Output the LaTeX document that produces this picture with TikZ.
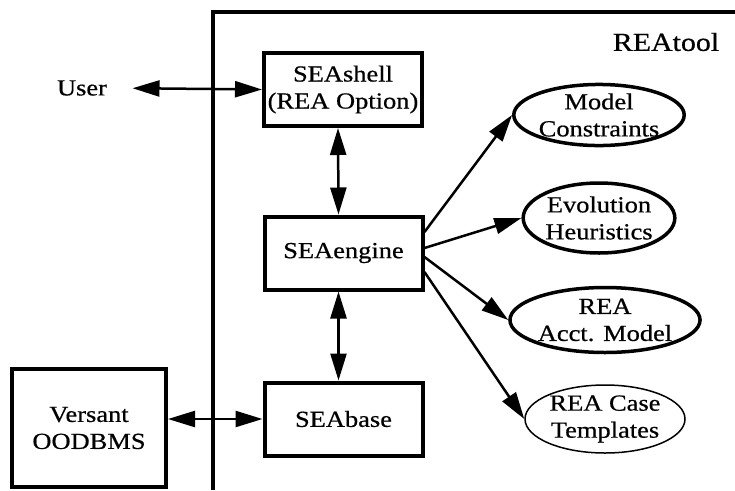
\documentclass[tikz,border=0pt]{standalone}
\usepackage{fontspec}
\setmainfont{Liberation Serif}[FakeStretch=1.15, FakeBold=0.6]
\usetikzlibrary{arrows.meta,shapes.geometric}

\begin{document}
\begin{tikzpicture}[x=1pt, y=-1pt, font=\fontsize{23}{27}\selectfont,
    >={Triangle[length=27pt, width=16pt]},
    box/.style = {draw, line width=4pt, rectangle, align=center, minimum width=158pt, minimum height=73pt},
    oval/.style = {draw, line width=3.5pt, ellipse, align=center, inner sep=0pt},
    dbl/.style = {<->, line width=2.5pt},
    one/.style = {->, line width=2.5pt}]
    \useasboundingbox (0,0) rectangle (735,490);
    % REAtool frame
    \draw[line width=4pt] (213,490) -- (213,12) -- (737,12);
    \node[font=\fontsize{26}{30}\selectfont] (reatool) at (666,42) {REAtool};
    % boxes
    \node[box] (shell) at (343,89.5) {SEAshell\\(REA Option)};
    \node[box] (engine) at (343.5,253) {SEAengine};
    \node[box] (base) at (343.5,419) {SEAbase};
    \node[box, minimum width=154pt, minimum height=118pt] (versant) at (89,428) {Versant\\OODBMS};
    \node (user) at (82,88) {User};
    % knowledge ovals
    \node[oval, minimum width=142pt, minimum height=56pt] (mc) at (599,115) {Model\\Constraints};
    \node[oval, minimum width=145pt, minimum height=70pt] (eh) at (599,218) {Evolution\\Heuristics};
    \node[oval, minimum width=160pt, minimum height=65pt] (am) at (605,320) {REA\\Acct. Model};
    \node[oval, line width=1.5pt, minimum width=160pt, minimum height=68pt] (ct) at (605,419) {REA Case\\Templates};
    % connectors
    \draw[dbl, shorten <=22pt] (user.east) -- (shell.west);
    \draw[dbl] ([xshift=-5pt]shell.south) -- ([xshift=-5pt]engine.north);
    \draw[dbl] ([xshift=-5pt]engine.south) -- ([xshift=-5pt]base.north);
    \draw[dbl] (versant.east |- base.west) -- (base.west);
    \draw[one] ([yshift=21pt]engine.east) -- (mc.west);
    \draw[one] ([yshift=5pt]engine.east) -- (eh.west);
    \draw[one] ([yshift=-4pt]engine.east) -- (am.west);
    \draw[one] ([yshift=-19pt]engine.east) -- (ct.west);
\end{tikzpicture}
\end{document}
